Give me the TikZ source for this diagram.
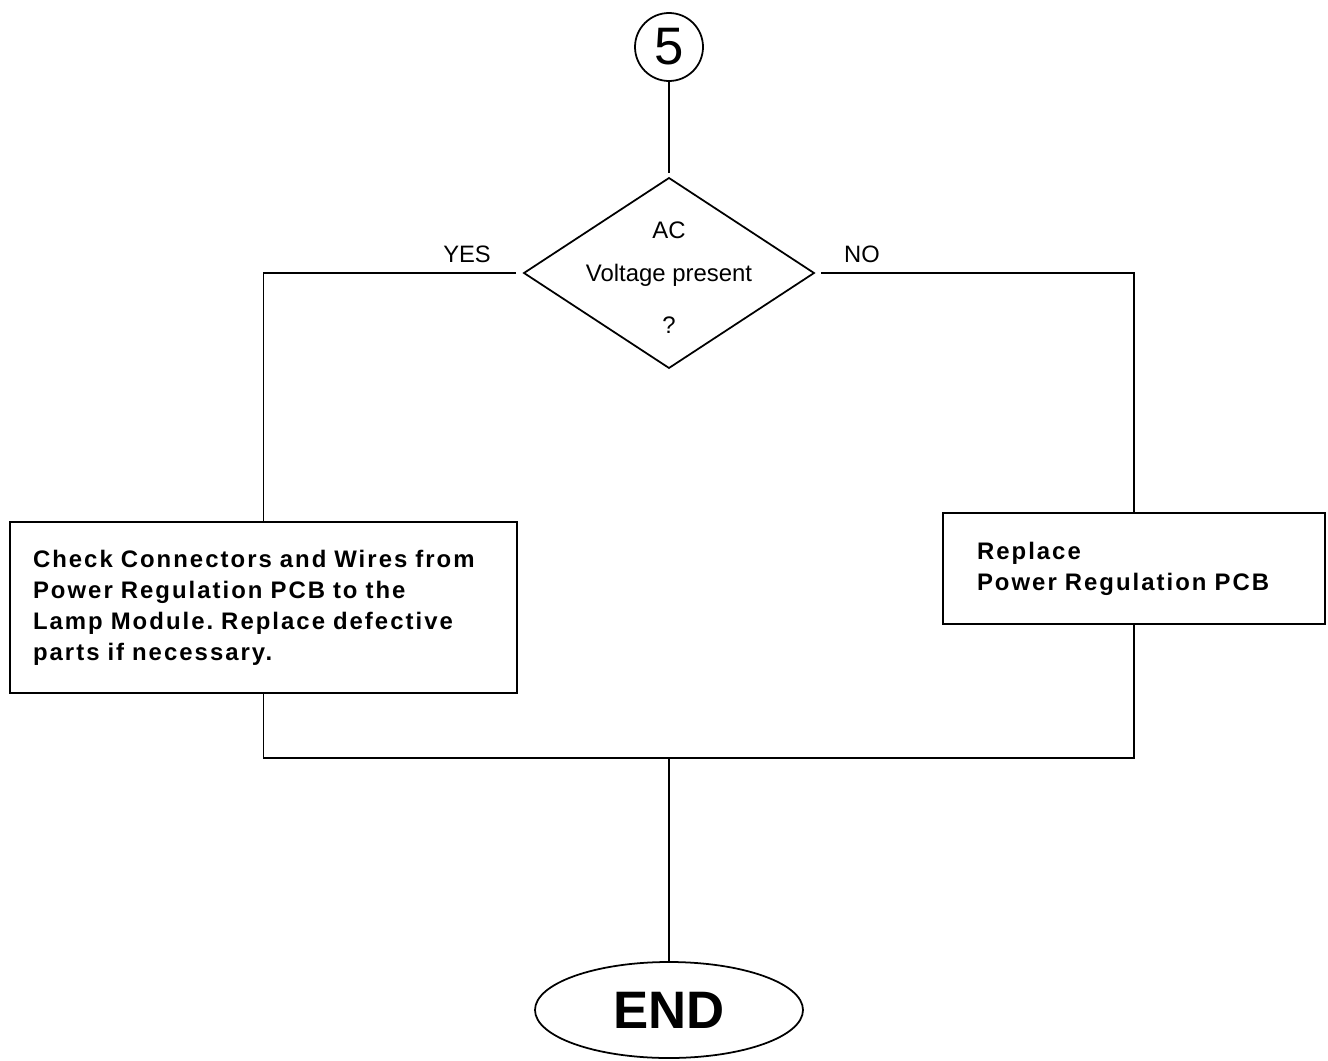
\documentclass[tikz,border=0pt]{standalone}
\usepackage{fontspec}
\setmainfont{Liberation Sans}
\newfontfamily\boxfont[LetterSpace=8.5]{Liberation Sans}
\usetikzlibrary{shapes.geometric, positioning}

\begin{document}
\frenchspacing
\begin{tikzpicture}[
        line width=1pt,
        every node/.style={outer sep=0pt},
        box/.style={
            draw=black,
            align=left,
            inner ysep=0pt,
            font=\boxfont\bfseries\fontsize{13.6}{17.6}\selectfont
        },
        decision/.style={
            diamond,
            draw=black,
            inner sep=0pt,
            minimum width=5.8cm,
            minimum height=3.8cm
        },
        terminal/.style={
            ellipse,
            draw=black,
            inner sep=0pt,
            minimum width=5.36cm,
            minimum height=1.92cm,
            font=\bfseries\fontsize{30}{36}\selectfont
        },
        connector/.style={
            circle,
            draw=black,
            inner sep=0pt,
            minimum size=1.36cm,
            font=\fontsize{30}{36}\selectfont
        },
        answer/.style={
            inner sep=0pt,
            font=\fontsize{13.5}{16}\selectfont
        }
    ]

        \useasboundingbox (0,0) rectangle (26.56,-21.22);

        \node[connector] (conn5) at (13.38,-0.94) {5};
        \node[decision, below=1.94cm of conn5] (acCheck) {};
        \node[align=center, font=\fontsize{13.6}{24}\selectfont] (acText) at ([yshift=-0.1cm]acCheck.center) {AC\\Voltage present\\[6pt]?};

        \node[answer] (yesLbl) at (9.34,-5.08) {YES};
        \node[answer] (noLbl) at (17.24,-5.08) {NO};

        \node[box, text width=9.22cm, inner xsep=0.46cm, minimum height=3.42cm] (boxYes) at (5.27,-12.15) {Check Connectors and Wires from\\Power Regulation PCB to the\\Lamp Module. Replace defective\\parts if necessary.};
        \node[box, text width=6.28cm, inner xsep=0.68cm, minimum height=2.22cm] (boxNo) at (22.68,-11.37) {Replace\\Power Regulation PCB};

        \node[terminal] (finish) at (13.38,-20.2) {END};

        \coordinate (merge) at ([yshift=-1.3cm]boxYes.south -| finish);

        \draw[shorten >=0.1cm] (conn5) -- (acCheck);
        \draw[shorten <=0.16cm] (acCheck.west) -| (boxYes.north);
        \draw[shorten <=0.14cm] (acCheck.east) -| (boxNo.north);
        \draw (boxYes.south) |- (merge) -| (boxNo.south);
        \draw (merge) -- (finish);

    \end{tikzpicture}
\end{document}
